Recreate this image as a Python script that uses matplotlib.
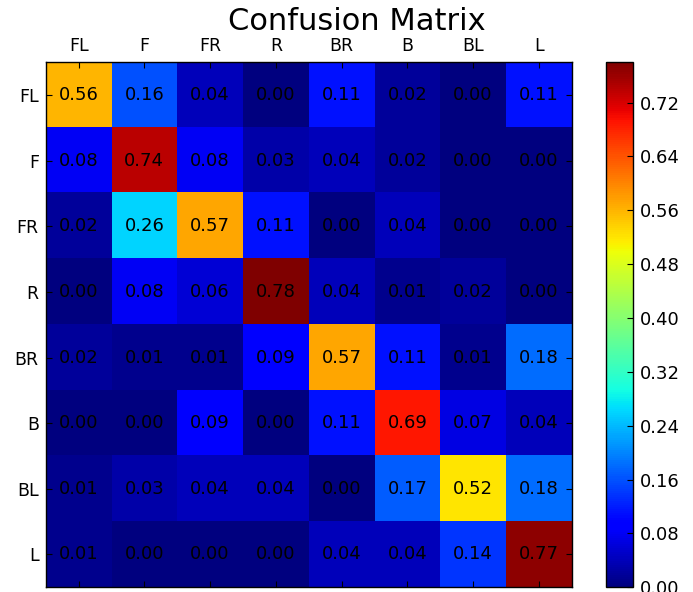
import numpy as np
import matplotlib
matplotlib.use("Agg")
import matplotlib.pyplot as plt

# class labels (rows = true, columns = predicted)
labels = ['FL', 'F', 'FR', 'R', 'BR', 'B', 'BL', 'L']

row_FL = [0.56, 0.16, 0.04, 0.00, 0.11, 0.02, 0.00, 0.11]
row_F = [0.08, 0.74, 0.08, 0.03, 0.04, 0.02, 0.00, 0.00]
row_FR = [0.02, 0.26, 0.57, 0.11, 0.00, 0.04, 0.00, 0.00]
row_R = [0.00, 0.08, 0.06, 0.78, 0.04, 0.01, 0.02, 0.00]
row_BR = [0.02, 0.01, 0.01, 0.09, 0.57, 0.11, 0.01, 0.18]
row_B = [0.00, 0.00, 0.09, 0.00, 0.11, 0.69, 0.07, 0.04]
row_BL = [0.01, 0.03, 0.04, 0.04, 0.00, 0.17, 0.52, 0.18]
row_L = [0.01, 0.00, 0.00, 0.00, 0.04, 0.04, 0.14, 0.77]

cbar_ticks = [0.00, 0.08, 0.16, 0.24, 0.32, 0.40, 0.48, 0.56, 0.64, 0.72]

cm = np.array([row_FL, row_F, row_FR, row_R, row_BR, row_B, row_BL, row_L])

fig = plt.figure(figsize=(6.93, 5.92), dpi=100)
ax = fig.add_axes([0.066, 0.008, 0.759, 0.887])
cax = fig.add_axes([0.874, 0.008, 0.039, 0.887])

im = ax.imshow(cm, cmap='jet', interpolation='nearest', vmin=0, vmax=cm.max(), aspect='auto')

# write the value into every cell
for i in range(cm.shape[0]):
    for j in range(cm.shape[1]):
        ax.text(j, i, '%.2f' % cm[i, j], ha='center', va='center', fontsize=13, color='black')

ax.set_xticks(range(len(labels)))
ax.set_yticks(range(len(labels)))
ax.set_xticklabels(labels, fontsize=12.5)
ax.set_yticklabels(labels, fontsize=12.5)
ax.xaxis.tick_top()
ax.tick_params(axis='both', direction='in', length=4, top=True, bottom=True, left=True, right=True, pad=5)
ax.tick_params(axis='x', labeltop=True, labelbottom=False)
for s in ax.spines.values():
    s.set_linewidth(1.0)

cb = fig.colorbar(im, cax=cax, ticks=cbar_ticks)
cb.ax.set_yticklabels(['%.2f' % t for t in cbar_ticks], fontsize=13)
cb.ax.tick_params(direction='in', length=4, pad=5)
cb.outline.set_linewidth(1.0)

fig.text(0.515, 0.963, 'Confusion Matrix', ha='center', va='center', fontsize=22)

fig.savefig('out.png', dpi=100)
